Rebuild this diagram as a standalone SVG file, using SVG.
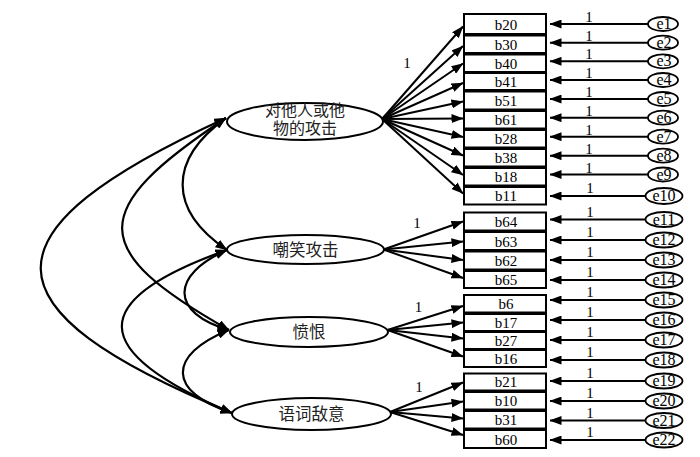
<svg xmlns="http://www.w3.org/2000/svg" width="700" height="457" viewBox="0 0 700 457">
<style>
.bg{fill:#fff}
.box{fill:#fff;stroke:#000;stroke-width:2}
.lat{fill:#fff;stroke:#000;stroke-width:2}
.err{fill:#fff;stroke:#000;stroke-width:1.8}
.bt{font-family:"Liberation Serif",serif;font-size:15px;text-anchor:middle;fill:#000}
.et{font-family:"Liberation Serif",serif;font-size:16px;text-anchor:middle;fill:#000}
.one{font-family:"Liberation Serif",serif;font-size:15px;text-anchor:middle;fill:#000}
.lt{font-family:"Noto Sans CJK SC","Noto Sans",sans-serif;font-size:16.5px;text-anchor:middle;fill:#222}
.lt2{font-family:"Noto Sans CJK SC","Noto Sans",sans-serif;font-size:16px;text-anchor:middle;fill:#222}
.ln{fill:none;stroke:#000;stroke-width:2;marker-end:url(#ah)}
.cv{fill:none;stroke:#000;stroke-width:2.2;marker-start:url(#ah);marker-end:url(#ah)}
</style>
<defs>
<marker id="ah" viewBox="0 0 12 9" refX="11.5" refY="4.5" markerUnits="userSpaceOnUse" markerWidth="12" markerHeight="9" orient="auto-start-reverse">
<path d="M0,0 L12,4.5 L0,9 z" fill="#000"/>
</marker>
</defs>
<rect class="bg" x="0" y="0" width="700" height="457"/>

<g id="connectors">
<path class="cv" d="M226,118 C-22,232 -22,308 232,413"/>
<path class="cv" d="M226,118 C87,210 87,250 229,330"/>
<path class="cv" d="M226,118 C168,160 168,210 227,250"/>
<path class="cv" d="M227,250 C86,300 86,351 232,413"/>
<path class="cv" d="M227,250 C170,275 170,313 229,330"/>
<path class="cv" d="M229,330 C167,355 167,392 232,413"/>
<line class="ln" x1="382" y1="119" x2="463" y2="26.5"/>
<line class="ln" x1="382" y1="119" x2="463" y2="46"/>
<line class="ln" x1="382" y1="119" x2="463" y2="63.5"/>
<line class="ln" x1="382" y1="119" x2="463" y2="83"/>
<line class="ln" x1="382" y1="119" x2="463" y2="101.5"/>
<line class="ln" x1="382" y1="119" x2="463" y2="118.5"/>
<line class="ln" x1="382" y1="119" x2="463" y2="137"/>
<line class="ln" x1="382" y1="119" x2="463" y2="155.5"/>
<line class="ln" x1="382" y1="119" x2="463" y2="175"/>
<line class="ln" x1="382" y1="119" x2="463" y2="193.5"/>
<line class="ln" x1="383.5" y1="249.5" x2="463" y2="221.5"/>
<line class="ln" x1="383.5" y1="249.5" x2="463" y2="241.5"/>
<line class="ln" x1="383.5" y1="249.5" x2="463" y2="260"/>
<line class="ln" x1="383.5" y1="249.5" x2="463" y2="278"/>
<line class="ln" x1="387.5" y1="330" x2="463" y2="306"/>
<line class="ln" x1="387.5" y1="330" x2="463" y2="322.5"/>
<line class="ln" x1="387.5" y1="330" x2="463" y2="338.5"/>
<line class="ln" x1="387.5" y1="330" x2="463" y2="356.5"/>
<line class="ln" x1="390" y1="412" x2="463" y2="382.5"/>
<line class="ln" x1="390" y1="412" x2="463" y2="401.5"/>
<line class="ln" x1="390" y1="412" x2="463" y2="418.5"/>
<line class="ln" x1="390" y1="412" x2="463" y2="435"/>
<text class="one" x="407" y="68">1</text>
<text class="one" x="417" y="228">1</text>
<text class="one" x="418.5" y="312">1</text>
<text class="one" x="419" y="392">1</text>
<line class="ln" x1="648" y1="24" x2="550" y2="24"/>
<line class="ln" x1="648" y1="42.7" x2="550" y2="42.7"/>
<line class="ln" x1="648" y1="61.3" x2="550" y2="61.3"/>
<line class="ln" x1="648" y1="80" x2="550" y2="80"/>
<line class="ln" x1="648" y1="99" x2="550" y2="99"/>
<line class="ln" x1="648" y1="117.7" x2="550" y2="117.7"/>
<line class="ln" x1="648" y1="136.7" x2="550" y2="136.7"/>
<line class="ln" x1="648" y1="155.7" x2="550" y2="155.7"/>
<line class="ln" x1="648" y1="174.5" x2="550" y2="174.5"/>
<line class="ln" x1="645.5" y1="196" x2="550" y2="196"/>
<line class="ln" x1="645.5" y1="219.5" x2="550" y2="219.5"/>
<line class="ln" x1="645.5" y1="240" x2="550" y2="240"/>
<line class="ln" x1="645.5" y1="260" x2="550" y2="260"/>
<line class="ln" x1="645.5" y1="280" x2="550" y2="280"/>
<line class="ln" x1="645.5" y1="300" x2="550" y2="300"/>
<line class="ln" x1="645.5" y1="320" x2="550" y2="320"/>
<line class="ln" x1="645.5" y1="340" x2="550" y2="340"/>
<line class="ln" x1="645.5" y1="360" x2="550" y2="360"/>
<line class="ln" x1="645.5" y1="381" x2="550" y2="381"/>
<line class="ln" x1="645.5" y1="401" x2="550" y2="401"/>
<line class="ln" x1="645.5" y1="420.5" x2="550" y2="420.5"/>
<line class="ln" x1="645.5" y1="440" x2="550" y2="440"/>
<text class="one" x="589" y="22">1</text>
<text class="one" x="589" y="40.7">1</text>
<text class="one" x="589" y="59.3">1</text>
<text class="one" x="589" y="78">1</text>
<text class="one" x="589" y="97">1</text>
<text class="one" x="589" y="115.7">1</text>
<text class="one" x="589" y="134.7">1</text>
<text class="one" x="589" y="153.7">1</text>
<text class="one" x="589" y="172.5">1</text>
<text class="one" x="590" y="193">1</text>
<text class="one" x="590" y="216.5">1</text>
<text class="one" x="590" y="237">1</text>
<text class="one" x="590" y="257">1</text>
<text class="one" x="590" y="277">1</text>
<text class="one" x="590" y="297">1</text>
<text class="one" x="590" y="317">1</text>
<text class="one" x="590" y="337">1</text>
<text class="one" x="590" y="357">1</text>
<text class="one" x="590" y="378">1</text>
<text class="one" x="590" y="398">1</text>
<text class="one" x="590" y="417.5">1</text>
<text class="one" x="590" y="437">1</text>
</g>

<g id="F1"><ellipse class="lat" cx="305" cy="121.5" rx="78" ry="18.5"/><text class="lt2" x="305" y="116"><tspan x="305" y="116">对他人或他</tspan><tspan x="305" y="134">物的攻击</tspan></text></g>
<g id="F2"><ellipse class="lat" cx="305.5" cy="249.5" rx="78.5" ry="14.5"/><text class="lt" x="305.5" y="255.5">嘲笑攻击</text></g>
<g id="F3"><ellipse class="lat" cx="309" cy="332" rx="79" ry="15"/><text class="lt" x="309" y="338">愤恨</text></g>
<g id="F4"><ellipse class="lat" cx="311.5" cy="414" rx="79.5" ry="16"/><text class="lt" x="311.5" y="420">语词敌意</text></g>

<g id="b20"><rect class="box" x="464" y="14" width="82" height="20"/><text class="bt" x="506" y="29.5">b20</text></g>
<g id="b30"><rect class="box" x="464" y="35.5" width="82" height="17.5"/><text class="bt" x="506" y="49.5">b30</text></g>
<g id="b40"><rect class="box" x="464" y="54.5" width="82" height="17.5"/><text class="bt" x="506" y="68.5">b40</text></g>
<g id="b41"><rect class="box" x="464" y="73" width="82" height="17"/><text class="bt" x="506" y="87">b41</text></g>
<g id="b51"><rect class="box" x="464" y="91.5" width="82" height="18"/><text class="bt" x="506" y="106">b51</text></g>
<g id="b61"><rect class="box" x="464" y="111" width="82" height="17.5"/><text class="bt" x="506" y="125">b61</text></g>
<g id="b28"><rect class="box" x="464" y="130" width="82" height="17.5"/><text class="bt" x="506" y="144">b28</text></g>
<g id="b38"><rect class="box" x="464" y="149" width="82" height="17.5"/><text class="bt" x="506" y="163">b38</text></g>
<g id="b18"><rect class="box" x="464" y="168" width="82" height="17.5"/><text class="bt" x="506" y="182">b18</text></g>
<g id="b11"><rect class="box" x="464" y="187" width="82" height="17.5"/><text class="bt" x="506" y="201">b11</text></g>

<g id="b64"><rect class="box" x="464" y="212.5" width="82" height="18"/><text class="bt" x="506" y="227">b64</text></g>
<g id="b63"><rect class="box" x="464" y="232" width="82" height="18"/><text class="bt" x="506" y="246.5">b63</text></g>
<g id="b62"><rect class="box" x="464" y="251.5" width="82" height="18"/><text class="bt" x="506" y="266">b62</text></g>
<g id="b65"><rect class="box" x="464" y="271" width="82" height="17"/><text class="bt" x="506" y="285">b65</text></g>

<g id="b6"><rect class="box" x="464" y="295" width="82" height="17.5"/><text class="bt" x="506" y="309">b6</text></g>
<g id="b17"><rect class="box" x="464" y="314" width="82" height="17"/><text class="bt" x="506" y="327.5">b17</text></g>
<g id="b27"><rect class="box" x="464" y="332" width="82" height="17"/><text class="bt" x="506" y="345.5">b27</text></g>
<g id="b16"><rect class="box" x="464" y="350" width="82" height="17"/><text class="bt" x="506" y="363.5">b16</text></g>

<g id="b21"><rect class="box" x="464" y="373.5" width="82" height="17"/><text class="bt" x="506" y="387">b21</text></g>
<g id="b10"><rect class="box" x="464" y="392" width="82" height="17.5"/><text class="bt" x="506" y="406">b10</text></g>
<g id="b31"><rect class="box" x="464" y="411" width="82" height="17.5"/><text class="bt" x="506" y="425">b31</text></g>
<g id="b60"><rect class="box" x="464" y="430" width="82" height="18"/><text class="bt" x="506" y="444.5">b60</text></g>

<g id="e1"><ellipse class="err" cx="663" cy="24" rx="15" ry="7"/><text class="et" x="664" y="29">e1</text></g>
<g id="e2"><ellipse class="err" cx="663" cy="42.7" rx="15" ry="7"/><text class="et" x="664" y="47.7">e2</text></g>
<g id="e3"><ellipse class="err" cx="663" cy="61.3" rx="15" ry="7"/><text class="et" x="664" y="66.3">e3</text></g>
<g id="e4"><ellipse class="err" cx="663" cy="80" rx="15" ry="7"/><text class="et" x="664" y="85">e4</text></g>
<g id="e5"><ellipse class="err" cx="663" cy="99" rx="15" ry="7"/><text class="et" x="664" y="104">e5</text></g>
<g id="e6"><ellipse class="err" cx="663" cy="117.7" rx="15" ry="7"/><text class="et" x="664" y="122.7">e6</text></g>
<g id="e7"><ellipse class="err" cx="663" cy="136.7" rx="15" ry="7"/><text class="et" x="664" y="141.7">e7</text></g>
<g id="e8"><ellipse class="err" cx="663" cy="155.7" rx="15" ry="7"/><text class="et" x="664" y="160.7">e8</text></g>
<g id="e9"><ellipse class="err" cx="663" cy="174.5" rx="15" ry="7"/><text class="et" x="664" y="179.5">e9</text></g>
<g id="e10"><ellipse class="err" cx="664" cy="196" rx="18.5" ry="8"/><text class="et" x="664" y="201">e10</text></g>
<g id="e11"><ellipse class="err" cx="664" cy="219.5" rx="18.5" ry="7.5"/><text class="et" x="664" y="224.5">e11</text></g>
<g id="e12"><ellipse class="err" cx="664" cy="240" rx="18.5" ry="7.5"/><text class="et" x="664" y="245">e12</text></g>
<g id="e13"><ellipse class="err" cx="664" cy="260" rx="18.5" ry="7.5"/><text class="et" x="664" y="265">e13</text></g>
<g id="e14"><ellipse class="err" cx="664" cy="280" rx="18.5" ry="7.5"/><text class="et" x="664" y="285">e14</text></g>
<g id="e15"><ellipse class="err" cx="664" cy="300" rx="18.5" ry="7.5"/><text class="et" x="664" y="305">e15</text></g>
<g id="e16"><ellipse class="err" cx="664" cy="320" rx="18.5" ry="7.5"/><text class="et" x="664" y="325">e16</text></g>
<g id="e17"><ellipse class="err" cx="664" cy="340" rx="18.5" ry="7.5"/><text class="et" x="664" y="345">e17</text></g>
<g id="e18"><ellipse class="err" cx="664" cy="360" rx="18.5" ry="7.5"/><text class="et" x="664" y="365">e18</text></g>
<g id="e19"><ellipse class="err" cx="664" cy="381" rx="18.5" ry="7.5"/><text class="et" x="664" y="386">e19</text></g>
<g id="e20"><ellipse class="err" cx="664" cy="401" rx="18.5" ry="7.5"/><text class="et" x="664" y="406">e20</text></g>
<g id="e21"><ellipse class="err" cx="664" cy="420.5" rx="18.5" ry="7.5"/><text class="et" x="664" y="425.5">e21</text></g>
<g id="e22"><ellipse class="err" cx="664" cy="440" rx="18.5" ry="7.5"/><text class="et" x="664" y="445">e22</text></g>
</svg>
